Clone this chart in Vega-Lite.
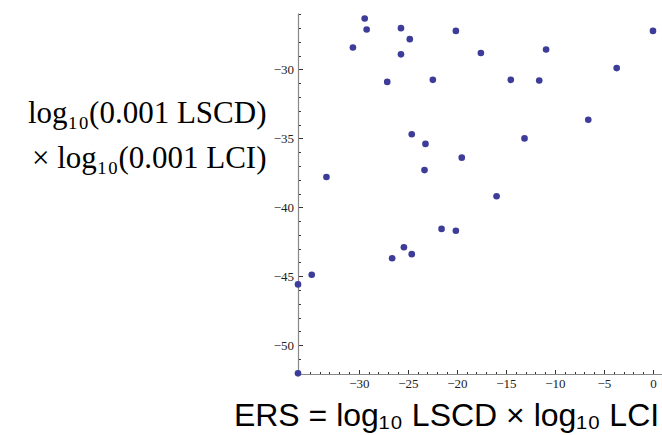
{
  "$schema": "https://vega.github.io/schema/vega-lite/v6.json",
  "width": 364,
  "height": 361,
  "autosize": "none",
  "padding": {"left": 298, "top": 13, "right": 0, "bottom": 61},
  "background": "white",
  "config": {"view": {"stroke": null}},
  "data": {"values": [
    {"ers": -29.4, "score": -26.3},
    {"ers": -29.2, "score": -27.1},
    {"ers": -30.6, "score": -28.4},
    {"ers": -25.7, "score": -27.0},
    {"ers": -24.8, "score": -27.8},
    {"ers": -25.7, "score": -28.9},
    {"ers": -20.1, "score": -27.2},
    {"ers": -17.55, "score": -28.8},
    {"ers": -27.1, "score": -30.9},
    {"ers": -22.45, "score": -30.75},
    {"ers": -24.6, "score": -34.7},
    {"ers": -23.2, "score": -35.4},
    {"ers": -19.5, "score": -36.4},
    {"ers": -23.3, "score": -37.3},
    {"ers": -33.3, "score": -37.8},
    {"ers": 0.0, "score": -27.2},
    {"ers": -10.9, "score": -28.55},
    {"ers": -3.7, "score": -29.9},
    {"ers": -14.5, "score": -30.75},
    {"ers": -11.6, "score": -30.8},
    {"ers": -6.6, "score": -33.65},
    {"ers": -13.1, "score": -35.0},
    {"ers": -15.95, "score": -39.2},
    {"ers": -21.56, "score": -41.57},
    {"ers": -20.1, "score": -41.7},
    {"ers": -25.4, "score": -42.9},
    {"ers": -26.6, "score": -43.7},
    {"ers": -24.6, "score": -43.4},
    {"ers": -34.8, "score": -44.9},
    {"ers": -36.2, "score": -45.6},
    {"ers": -36.2, "score": -52.05}
  ]},
  "layer": [
    {
      "mark": {"type": "point", "opacity": 0},
      "encoding": {
        "x": {"field": "ers", "type": "quantitative",
          "scale": {"domain": [-36.2, 0.92], "nice": false, "zero": false},
          "axis": {"orient": "bottom", "values": [-36,-35,-34,-33,-32,-31,-29,-28,-27,-26,-24,-23,-22,-21,-19,-18,-17,-16,-14,-13,-12,-11,-9,-8,-7,-6,-4,-3,-2,-1],
            "labels": false, "domain": false, "grid": false, "tickSize": -2.5, "tickColor": "#333", "tickWidth": 1, "title": null}},
        "y": {"field": "score", "type": "quantitative",
          "scale": {"domain": [-52.1, -25.9], "nice": false, "zero": false},
          "axis": {"orient": "left", "values": [-52,-51,-49,-48,-47,-46,-44,-43,-42,-41,-39,-38,-37,-36,-34,-33,-32,-31,-29,-28,-27,-26],
            "labels": false, "domain": false, "grid": false, "tickSize": -2.5, "tickColor": "#333", "tickWidth": 1, "title": null}}
      }
    },
    {
      "mark": {"type": "point", "filled": true, "size": 44, "color": "#3d3d99", "opacity": 1},
      "encoding": {
        "x": {"field": "ers", "type": "quantitative",
          "scale": {"domain": [-36.2, 0.92], "nice": false, "zero": false},
          "axis": {"orient": "bottom", "values": [-30,-25,-20,-15,-10,-5,0], "grid": false,
            "tickSize": -4.5, "tickColor": "#333", "tickWidth": 1, "domainColor": "#888", "domainWidth": 1.2,
            "labelFont": "Liberation Serif", "labelFontSize": 13, "labelColor": "#222", "labelPadding": 8,
            "title": "ERS = log₁₀ LSCD × log₁₀ LCI", "titleFont": "Liberation Sans", "titleFontSize": 32, "titleFontWeight": "normal", "titleColor": "#000",
            "titleX": 148, "titleY": 51, "titleAlign": "center", "titleBaseline": "alphabetic", "titleAnchor": null}},
        "y": {"field": "score", "type": "quantitative",
          "scale": {"domain": [-52.1, -25.9], "nice": false, "zero": false},
          "axis": {"orient": "left", "values": [-50,-45,-40,-35,-30], "grid": false,
            "tickSize": -4.5, "tickColor": "#333", "tickWidth": 1, "domainColor": "#888", "domainWidth": 1.2,
            "labelFont": "Liberation Serif", "labelFontSize": 13, "labelColor": "#222", "labelPadding": 9,
            "title": ["log₁₀(0.001 LSCD)", "× log₁₀(0.001 LCI)"], "titleFont": "Liberation Serif", "titleFontSize": 31, "titleFontWeight": "normal", "titleColor": "#000",
            "titleAngle": 0, "titleAlign": "right", "titleBaseline": "alphabetic", "titleLineHeight": 45,
            "titleX": -32, "titleY": 109, "titleAnchor": null}}
      }
    }
  ],
  "resolve": {"axis": {"x": "independent", "y": "independent"}}
}
